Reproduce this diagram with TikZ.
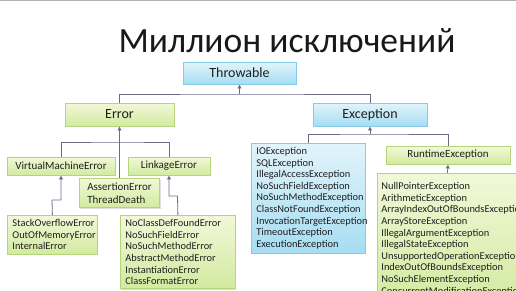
\documentclass[tikz,border=0pt]{standalone}
\usepackage{fontspec}
\setmainfont{Carlito}
\usetikzlibrary{arrows.meta,shadows}
\definecolor{bluetop}{HTML}{E2F4FB}
\definecolor{bluebot}{HTML}{A6DDF2}
\definecolor{blueline}{HTML}{86CBE6}
\definecolor{greentop}{HTML}{F1F8D8}
\definecolor{greenbot}{HTML}{D2EAA0}
\definecolor{greenline}{HTML}{B5D57A}
\definecolor{linkcol}{HTML}{6E6A85}
\tikzset{
  box/.style={draw, line width=0.8pt, text=black!88, inner sep=0pt,
    drop shadow={shadow xshift=1pt,shadow yshift=-1.2pt,opacity=.25}},
  bluebox/.style={box, draw=blueline, top color=bluetop, bottom color=bluebot},
  greenbox/.style={box, draw=greenline, top color=greentop, bottom color=greenbot},
  big/.style={font=\fontsize{14}{16}\selectfont},
  mid/.style={font=\fontsize{11}{13.5}\selectfont},
  list/.style={font=\fontsize{10.4}{11.6}\selectfont, align=left, inner xsep=5pt, inner ysep=4pt, anchor=north west},
  link/.style={draw=linkcol, line width=0.8pt},
  up/.style={link, -{Latex[length=4pt,width=4.5pt]}}
}

\begin{document}
\begin{tikzpicture}[x=1pt,y=-1pt]
\useasboundingbox (0,0) rectangle (516,290);
\clip (0,0) rectangle (516,290);
\draw[gray!60, line width=1.5pt] (0,0.7) -- (516,0.7);

% title
\node[font=\fontsize{35.5}{40}\selectfont, anchor=base, text=black!90] (title) at (287,52) {Миллион исключений};

% top levels
\node[bluebox, big, minimum width=113pt, minimum height=22pt] (throwable) at (239.5,73) {Throwable};
\node[greenbox, big, minimum width=109pt, minimum height=23pt] (error) at (119.5,114.5) {Error};
\node[bluebox, big, minimum width=114pt, minimum height=23pt] (exception) at (370,114.5) {Exception};

% errors
\node[greenbox, mid, minimum width=108pt, minimum height=18pt] (vme) at (61,166) {VirtualMachineError};
\node[greenbox, mid, minimum width=82pt, minimum height=18pt] (linkage) at (169,166) {LinkageError};
\node[greenbox, mid, align=left, inner xsep=8pt, inner ysep=4pt, anchor=north] (assertion) at (119.5,178) {AssertionError\\ThreadDeath};
\node[greenbox, list, text width=80pt] (vmelist) at (7,215)
  {StackOverflowError\\OutOfMemoryError\\InternalError};
\node[greenbox, list, text width=105pt] (linklist) at (120,215)
  {NoClassDefFoundError\\NoSuchFieldError\\NoSuchMethodError\\AbstractMethodError\\InstantiationError\\ClassFormatError};

% exceptions
\node[bluebox, list, text width=104pt] (checked) at (251,143)
  {IOException\\SQLException\\IllegalAccessException\\NoSuchFieldException\\NoSuchMethodException\\ClassNotFoundException\\InvocationTargetException\\TimeoutException\\ExecutionException};
\node[greenbox, mid, minimum width=124pt, minimum height=18pt] (runtime) at (448,155) {RuntimeException};
\node[greenbox, list, text width=132pt, inner xsep=4pt, inner ysep=9pt] (rtlist) at (377,173)
  {NullPointerException\\ArithmeticException\\ArrayIndexOutOfBoundsException\\ArrayStoreException\\IllegalArgumentException\\IllegalStateException\\UnsupportedOperationException\\IndexOutOfBoundsException\\NoSuchElementException\\ConcurrentModificationException};

% connectors
\coordinate (j0) at (239.5,94);
\draw[link] (error.north) |- (j0) -| (exception.north);
\draw[up] (j0) -- (throwable.south);

\coordinate (j1) at (119.5,142);
\draw[link] (vme.north) |- (j1) -| (linkage.north);
\draw[up] (assertion.north) -- (error.south);

\coordinate (j2) at (52,200);
\draw[up] (vmelist.north) -- (j2) -| (vme.south);
\coordinate (j3) at (177.5,196);
\draw[up] (linklist.north) -- (j3) -| (linkage.south);

\coordinate (j4) at (370,134);
\draw[link] (checked.north) |- (j4) -| (runtime.north);
\draw[up] (j4) -- (exception.south);
\draw[up] (rtlist.north) -- (runtime.south);

\end{tikzpicture}
\end{document}
